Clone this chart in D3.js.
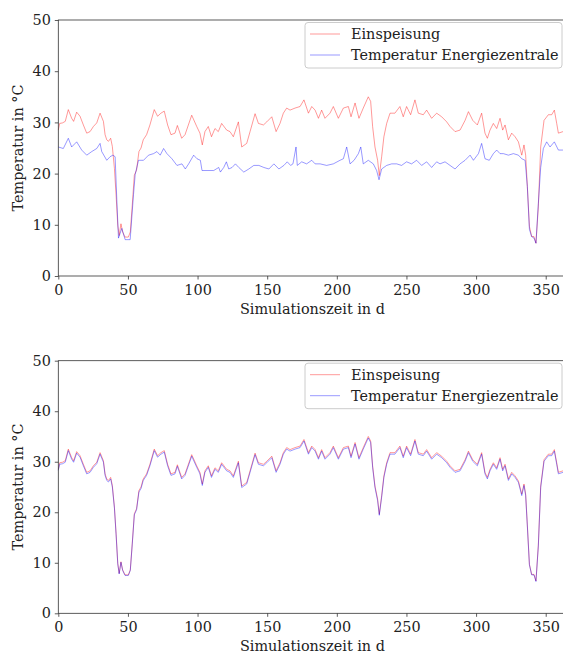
<!DOCTYPE html>
<html>
<head>
<meta charset="utf-8">
<script src="https://cdn.jsdelivr.net/npm/d3@7"></script>
<style>
    body { margin: 0; background: #fff; }
    svg { display: block; }
</style>
</head>
<body>
<div id="chart"></div>
<script>
// Einspeisung (same in both runs), days and temperature in °C
const einDays = [0, 1, 3, 5, 7.2, 9.6, 11, 13.2, 15.6, 18,
    20.4, 22.8, 25.2, 27.6, 30, 32.4, 33.6, 34.8, 36, 37.6,
    38.8, 40.3, 41.5, 42.7, 43.7, 45, 46.2, 47.9, 50.3, 51.7,
    53.1, 54.6, 56.2, 57.9, 59.4, 61, 63.4, 65.8, 68.9, 71.3,
    73.7, 76.1, 78.5, 80.9, 83.8, 85.5, 88.6, 91, 95.8, 99.4,
    101.7, 103.4, 105.3, 107.7, 110, 112.5, 114.9, 117.3, 120.9, 123.3,
    125.7, 129.3, 131.7, 135.3, 137.7, 141.3, 143.7, 147.3, 149.7, 153.3,
    156.4, 159.2, 161.6, 164, 166.4, 170, 173.6, 176.4, 179.6, 182,
    184.4, 186.8, 189.1, 191.5, 195.1, 197.5, 201.1, 204.7, 208.3, 210.2,
    213.1, 215.9, 219, 222.6, 224.3, 225.7, 227.4, 229.3, 230.5, 232.2,
    233.8, 235.8, 238.2, 241.7, 245.3, 247.7, 250.1, 253, 256.1, 258.5,
    262.1, 264.5, 268.1, 271.7, 275.3, 278.9, 281.3, 284.9, 288.5, 292.1,
    294.5, 297.6, 300.9, 304, 306.4, 308.1, 310, 312.4, 314.8, 317.2,
    319.1, 320.8, 323.2, 325.6, 328, 330.4, 332.8, 334.4, 335.6, 336.8,
    338.3, 339.9, 341.6, 343, 344.7, 346.4, 348.8, 351.9, 354.3, 356.2,
    357.9, 359.1, 362.4, 365];
const einTemp = [28.5, 29.8, 29.9, 30.2, 32.5, 30.8, 30.2, 32.0, 31.2, 29.5,
    27.9, 28.2, 29.2, 29.9, 31.8, 30.2, 27.6, 26.6, 26.3, 26.9,
    25.3, 21.0, 15.8, 9.9, 7.9, 10.2, 8.6, 7.6, 7.6, 8.6,
    13.8, 19.7, 20.7, 24.3, 25.0, 26.6, 27.6, 29.5, 32.5, 31.2,
    31.8, 32.2, 29.5, 27.6, 27.9, 29.4, 26.9, 27.6, 31.4, 29.2,
    27.9, 25.6, 28.2, 29.2, 27.2, 28.8, 28.2, 29.8, 28.5, 28.2,
    27.2, 30.1, 25.2, 25.9, 28.2, 31.7, 29.8, 29.5, 30.1, 31.1,
    28.2, 29.8, 31.8, 32.8, 32.4, 32.8, 33.1, 34.4, 31.8, 33.1,
    32.4, 30.8, 32.4, 30.8, 31.8, 33.1, 30.8, 32.8, 33.1, 31.1,
    33.8, 30.8, 32.8, 35.0, 34.1, 29.2, 25.2, 22.6, 19.6, 23.3,
    27.2, 29.8, 31.8, 31.8, 33.1, 31.1, 33.1, 31.5, 34.4, 31.8,
    31.5, 32.4, 30.8, 31.8, 31.1, 30.1, 29.2, 28.2, 28.5, 30.4,
    32.1, 30.4, 29.5, 31.8, 27.9, 26.9, 28.5, 29.8, 28.8, 30.8,
    28.5, 29.5, 26.6, 27.9, 27.2, 26.2, 23.6, 25.6, 23.6, 17.5,
    9.7, 7.7, 7.7, 6.4, 13.5, 25.2, 30.4, 31.5, 31.5, 32.4,
    29.8, 27.9, 28.2, 28.0];

// Temperatur Energiezentrale, upper run
const ezTopDays = [0, 3.6, 7.2, 9.6, 13.2, 16.8, 20.4, 24, 27.6, 30,
    31.2, 34.8, 37.2, 39.2, 40.8, 42, 43.2, 45.6, 48, 51.6,
    54, 55.2, 57.6, 61.2, 64.8, 68.4, 70.8, 73.2, 75.6, 78,
    81.6, 85.2, 88.8, 91.2, 93.6, 97.2, 99.6, 102, 103.2, 106.8,
    111.6, 115.2, 116.4, 118.8, 120.7, 122.4, 124.8, 127.2, 129.6, 133.2,
    136.8, 140.4, 144, 147.6, 151.2, 154.8, 158.4, 162, 164.4, 166.8,
    168.5, 170.7, 171.6, 174.8, 178.3, 182, 184.4, 188, 192.7, 197.5,
    202.3, 204.7, 207.1, 209.5, 212.4, 215.5, 217.2, 219, 222.6, 226.2,
    228.6, 230.3, 232.2, 235.8, 239.4, 243, 246.5, 250.1, 253.7, 257.3,
    260.9, 264.5, 268.1, 271.7, 274.1, 277.7, 281.3, 284.9, 288.5, 292.1,
    295.7, 298.1, 301.7, 304, 306.4, 309.5, 312.4, 314.8, 317.2, 319.6,
    323.2, 326.8, 330.4, 332.8, 335.2, 336.8, 338.3, 339.9, 341.6, 343,
    344.7, 346.4, 348.3, 350.7, 353.1, 356.2, 359.1, 362.4, 365];
const ezTopTemp = [25.2, 24.9, 26.9, 25.2, 26.2, 24.6, 23.6, 24.3, 24.9, 25.9,
    24.3, 22.6, 23.3, 23.6, 23.3, 15.0, 7.4, 9.3, 7.1, 7.1,
    15.9, 19.8, 22.6, 22.6, 23.6, 23.9, 24.3, 23.6, 24.9, 23.9,
    22.9, 21.6, 21.9, 20.9, 21.9, 23.6, 22.9, 22.6, 20.6, 20.6,
    20.6, 21.2, 20.3, 21.2, 22.3, 20.9, 21.2, 21.9, 21.2, 20.3,
    20.9, 21.6, 21.6, 21.2, 20.9, 21.9, 20.9, 21.6, 22.3, 21.6,
    21.9, 25.2, 21.6, 22.3, 21.9, 22.6, 21.9, 21.9, 21.6, 21.9,
    22.6, 22.9, 25.2, 21.9, 22.6, 23.9, 25.2, 21.9, 22.6, 21.9,
    20.6, 18.8, 20.9, 21.6, 21.9, 21.9, 21.6, 22.3, 21.9, 22.6,
    21.6, 22.3, 21.2, 22.3, 21.9, 22.3, 21.6, 20.9, 21.9, 22.6,
    23.6, 22.6, 23.9, 25.9, 22.9, 22.6, 23.9, 24.6, 23.9, 23.9,
    23.6, 23.9, 23.6, 22.9, 22.6, 17.5, 9.1, 7.7, 7.4, 6.4,
    14.2, 21.2, 24.9, 26.2, 25.2, 26.2, 24.6, 24.6, 24.5];

// Temperatur Energiezentrale, lower run (on the einDays grid)
const ezBottomTemp = [28.3, 29.5, 29.6, 29.9, 32.2, 30.5, 29.9, 31.7, 30.9, 29.2,
    27.6, 27.9, 28.9, 29.6, 31.5, 29.9, 27.3, 26.3, 26.0, 26.6,
    25.0, 20.8, 15.6, 9.8, 7.8, 10.1, 8.5, 7.5, 7.5, 8.5,
    13.6, 19.5, 20.5, 24.0, 24.7, 26.3, 27.3, 29.2, 32.2, 30.9,
    31.5, 31.9, 29.2, 27.3, 27.6, 29.1, 26.6, 27.3, 31.1, 28.9,
    27.6, 25.3, 27.9, 28.9, 26.9, 28.5, 27.9, 29.5, 28.2, 27.9,
    26.9, 29.8, 24.9, 25.6, 27.9, 31.4, 29.5, 29.2, 29.8, 30.8,
    27.9, 29.5, 31.5, 32.5, 32.1, 32.5, 32.8, 34.1, 31.5, 32.8,
    32.1, 30.5, 32.1, 30.5, 31.5, 32.8, 30.5, 32.5, 32.8, 30.8,
    33.5, 30.5, 32.5, 34.7, 33.8, 28.9, 24.9, 22.3, 19.4, 23.0,
    26.9, 29.5, 31.5, 31.5, 32.8, 30.8, 32.8, 31.2, 34.1, 31.5,
    31.2, 32.1, 30.5, 31.5, 30.8, 29.8, 28.9, 27.9, 28.2, 30.1,
    31.8, 30.1, 29.2, 31.5, 27.6, 26.6, 28.2, 29.5, 28.5, 30.5,
    28.2, 29.2, 26.3, 27.6, 26.9, 25.9, 23.3, 25.3, 23.3, 17.3,
    9.6, 7.6, 7.6, 6.3, 13.3, 24.9, 30.1, 31.2, 31.2, 32.1,
    29.5, 27.6, 27.9, 27.7];

const xTicks = [0, 50, 100, 150, 200, 250, 300, 350];
const yTicks = [0, 10, 20, 30, 40, 50];
const legendLabels = ["Einspeisung", "Temperatur Energiezentrale"];

const width = 563;
const height = 653;
const font = "'DejaVu Serif', serif";
const fontSize = "14.4px";
const textColor = "#222";
const colors = ["#ff0000", "#0000ff"];

const svg = d3.select("#chart").append("svg")
    .attr("width", width)
    .attr("height", height)
    .style("font-family", font);

const xScale = d3.scaleLinear()
    .domain([0, 365])
    .range([58.3, 566.6]);

function drawPanel(top, bottom, series) {
    const yScale = d3.scaleLinear()
        .domain([0, 50])
        .range([bottom, top]);

    const g = svg.append("g");

    // x axis
    const xAxis = g.append("g")
        .attr("transform", `translate(0,${bottom})`)
        .call(d3.axisBottom(xScale).tickValues(xTicks).tickSize(3.5).tickSizeOuter(0).tickPadding(5));
    xAxis.select(".domain").remove();

    // y axis
    const yAxis = g.append("g")
        .attr("transform", `translate(${xScale(0)},0)`)
        .call(d3.axisLeft(yScale).tickValues(yTicks).tickSize(3.5).tickSizeOuter(0).tickPadding(4));
    yAxis.select(".domain").remove();

    g.selectAll(".tick line").attr("stroke", "#333").attr("stroke-width", 0.8);
    g.selectAll(".tick text")
        .attr("fill", textColor)
        .style("font-family", font)
        .style("font-size", fontSize);

    // lines
    const line = d3.line()
        .x(d => xScale(d[0]))
        .y(d => yScale(d[1]));

    series.forEach((s, i) => {
        g.append("path")
            .datum(d3.zip(s.days, s.temp))
            .attr("fill", "none")
            .attr("stroke", colors[i])
            .attr("stroke-opacity", 0.4)
            .attr("stroke-width", 1)
            .attr("stroke-linejoin", "round")
            .attr("d", line);
    });

    // frame
    g.append("rect")
        .attr("x", xScale(0))
        .attr("y", top)
        .attr("width", xScale(365) - xScale(0))
        .attr("height", bottom - top)
        .attr("fill", "none")
        .attr("stroke", "#333")
        .attr("stroke-width", 0.8);

    // axis labels
    g.append("text")
        .attr("x", (xScale(0) + xScale(365)) / 2)
        .attr("y", bottom + 38)
        .attr("text-anchor", "middle")
        .attr("fill", textColor)
        .style("font-size", fontSize)
        .text("Simulationszeit in d");

    g.append("text")
        .attr("transform", `translate(23,${(top + bottom) / 2}) rotate(-90)`)
        .attr("text-anchor", "middle")
        .attr("fill", textColor)
        .style("font-size", fontSize)
        .text("Temperatur in °C");

    // legend
    const legend = g.append("g")
        .attr("transform", `translate(305,${top + 2.5})`);

    legend.append("rect")
        .attr("width", 257)
        .attr("height", 45.5)
        .attr("rx", 3)
        .attr("fill", "#fff")
        .attr("fill-opacity", 0.8)
        .attr("stroke", "#ccc")
        .attr("stroke-width", 1);

    legendLabels.forEach((label, i) => {
        const yy = 11.5 + i * 21;
        legend.append("line")
            .attr("x1", 5)
            .attr("x2", 35)
            .attr("y1", yy)
            .attr("y2", yy)
            .attr("stroke", colors[i])
            .attr("stroke-opacity", 0.4)
            .attr("stroke-width", 1);
        legend.append("text")
            .attr("x", 46)
            .attr("y", yy)
            .attr("dy", "0.35em")
            .attr("fill", textColor)
            .style("font-size", fontSize)
            .text(label);
    });
}

drawPanel(20, 276, [
    { days: einDays, temp: einTemp },
    { days: ezTopDays, temp: ezTopTemp }
]);

drawPanel(360.7, 613.3, [
    { days: einDays, temp: einTemp },
    { days: einDays, temp: ezBottomTemp }
]);
</script>
</body>
</html>
